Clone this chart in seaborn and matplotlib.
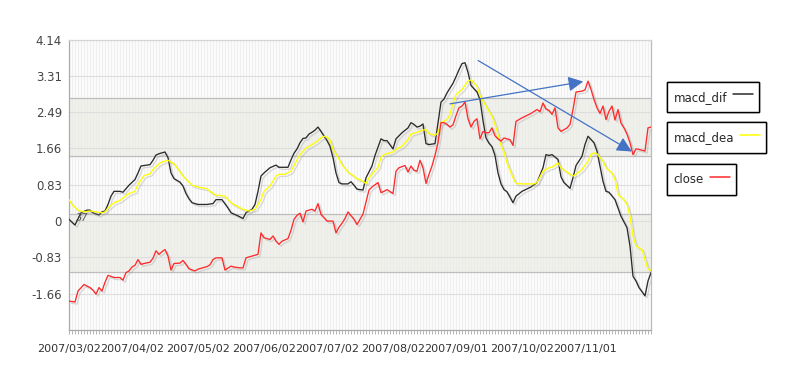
import numpy as np
import pandas as pd
import seaborn as sns
import matplotlib.pyplot as plt
import matplotlib.patheffects as pe
from matplotlib.lines import Line2D

#------------------------------------------------------------------------------#
# MACD chart: macd_dif, macd_dea and close, by trading day (index from 2007/03/02)
#------------------------------------------------------------------------------#

date_labels = ['2007/03/02', '2007/04/02', '2007/05/02', '2007/06/02', '2007/07/02',
               '2007/08/02', '2007/09/01', '2007/10/02', '2007/11/01']
date_days   = [0, 21, 43, 65, 86, 108, 129, 151, 172]
n_days      = 195

y_ticks  = [-1.66, -0.83, 0, 0.83, 1.66, 2.49, 3.31, 4.14]
y_labels = ['-1.66', '-0.83', '0', '0.83', '1.66', '2.49', '3.31', '4.14']

# (day, value)
macd_dif = [(0, 0.04), (2, -0.09), (4, 0.19), (6, 0.25), (7, 0.25), (8, 0.19), (10, 0.14),
            (11, 0.21), (12, 0.23), (13, 0.38), (14, 0.57), (15, 0.68), (17, 0.68), (18, 0.66),
            (19, 0.74), (20, 0.82), (22, 0.95), (23, 1.10), (24, 1.26), (25, 1.27), (27, 1.29),
            (28, 1.39), (29, 1.51), (30, 1.54), (32, 1.58), (33, 1.45), (34, 1.10), (35, 0.97),
            (37, 0.89), (38, 0.80), (39, 0.63), (40, 0.51), (41, 0.42), (43, 0.38), (46, 0.38),
            (48, 0.40), (49, 0.49), (51, 0.49), (53, 0.30), (54, 0.19), (56, 0.13), (58, 0.06),
            (59, 0.19), (61, 0.27), (62, 0.38), (63, 0.68), (64, 1.03), (65, 1.10), (67, 1.22),
            (69, 1.28), (70, 1.23), (73, 1.23), (74, 1.40), (75, 1.55), (76, 1.65), (77, 1.79),
            (78, 1.89), (79, 1.90), (80, 1.99), (81, 2.03), (82, 2.08), (83, 2.15), (84, 2.05),
            (86, 1.84), (87, 1.71), (88, 1.45), (89, 1.10), (90, 0.88), (91, 0.85), (93, 0.85),
            (94, 0.90), (95, 0.82), (96, 0.73), (98, 0.71), (99, 0.99), (101, 1.26), (102, 1.50),
            (104, 1.88), (105, 1.84), (106, 1.84), (108, 1.65), (109, 1.88), (111, 2.02),
            (113, 2.13), (114, 2.25), (115, 2.21), (116, 2.15), (117, 2.17), (118, 2.22),
            (119, 1.77), (120, 1.75), (122, 1.77), (123, 2.25), (124, 2.72), (125, 2.79),
            (126, 2.93), (128, 3.15), (129, 3.30), (130, 3.46), (131, 3.60), (132, 3.62),
            (133, 3.40), (134, 3.10), (136, 2.95), (137, 2.78), (138, 2.30), (139, 1.90),
            (140, 1.78), (141, 1.70), (142, 1.50), (143, 1.10), (144, 0.85), (145, 0.72),
            (146, 0.67), (148, 0.42), (149, 0.57), (151, 0.68), (154, 0.78), (156, 0.88),
            (158, 1.22), (159, 1.52), (160, 1.50), (161, 1.52), (163, 1.41), (164, 1.01),
            (165, 0.88), (167, 0.75), (168, 0.99), (169, 1.27), (171, 1.48), (172, 1.75),
            (173, 1.94), (175, 1.79), (176, 1.60), (177, 1.26), (178, 0.91), (179, 0.68),
            (180, 0.66), (182, 0.49), (183, 0.30), (184, 0.11), (186, -0.15), (187, -0.57),
            (188, -1.26), (189, -1.37), (190, -1.52), (192, -1.71), (193, -1.37), (194, -1.18)]

macd_dea = [(0, 0.49), (1, 0.38), (3, 0.25), (5, 0.21), (7, 0.23), (9, 0.21), (11, 0.19),
            (12, 0.21), (13, 0.30), (15, 0.42), (17, 0.47), (18, 0.53), (20, 0.63), (22, 0.68),
            (23, 0.84), (25, 1.04), (27, 1.08), (28, 1.18), (30, 1.31), (31, 1.35), (33, 1.39),
            (35, 1.31), (36, 1.22), (38, 1.03), (40, 0.89), (41, 0.82), (43, 0.78), (46, 0.74),
            (47, 0.68), (49, 0.59), (50, 0.59), (52, 0.57), (54, 0.42), (56, 0.34), (58, 0.27),
            (60, 0.23), (62, 0.27), (64, 0.49), (65, 0.68), (67, 0.80), (69, 1.03), (70, 1.07),
            (72, 1.07), (74, 1.14), (75, 1.27), (77, 1.52), (79, 1.67), (80, 1.71), (82, 1.79),
            (84, 1.90), (85, 1.94), (86, 1.92), (87, 1.85), (88, 1.64), (90, 1.42), (91, 1.29),
            (93, 1.12), (95, 1.03), (96, 0.97), (97, 0.95), (99, 0.86), (100, 0.99), (101, 1.07),
            (103, 1.23), (104, 1.45), (105, 1.52), (108, 1.58), (109, 1.64), (111, 1.71),
            (113, 1.86), (114, 1.99), (116, 2.03), (118, 2.08), (119, 2.09), (120, 2.00),
            (122, 1.96), (123, 2.02), (124, 2.25), (126, 2.32), (127, 2.44), (128, 2.70),
            (129, 2.89), (131, 3.01), (133, 3.20), (134, 3.23), (135, 3.16), (136, 3.08),
            (137, 2.87), (139, 2.63), (140, 2.51), (141, 2.40), (142, 2.21), (143, 1.98),
            (144, 1.73), (145, 1.58), (146, 1.33), (148, 0.99), (149, 0.86), (151, 0.85),
            (155, 0.85), (156, 0.88), (158, 1.14), (160, 1.22), (161, 1.23), (163, 1.33),
            (164, 1.22), (166, 1.12), (168, 1.03), (169, 1.07), (171, 1.18), (173, 1.37),
            (174, 1.52), (175, 1.56), (176, 1.54), (178, 1.37), (179, 1.22), (181, 1.10),
            (182, 0.95), (183, 0.61), (185, 0.49), (186, 0.38), (187, 0.11), (188, -0.34),
            (189, -0.57), (191, -0.65), (192, -0.88), (193, -1.10), (194, -1.13)]

close = [(0, -1.83), (2, -1.85), (3, -1.60), (5, -1.45), (7, -1.52), (8, -1.58), (9, -1.67),
         (10, -1.52), (11, -1.60), (12, -1.40), (13, -1.24), (15, -1.29), (17, -1.29),
         (18, -1.35), (19, -1.18), (20, -1.14), (21, -1.05), (22, -1.01), (23, -0.88),
         (24, -0.99), (25, -0.97), (27, -0.94), (28, -0.85), (29, -0.68), (30, -0.76),
         (31, -0.70), (32, -0.65), (33, -0.80), (34, -1.12), (35, -0.97), (37, -0.96),
         (38, -0.90), (39, -0.99), (40, -1.09), (42, -1.14), (43, -1.10), (46, -1.04),
         (47, -1.00), (48, -0.88), (49, -0.84), (51, -0.84), (52, -1.12), (54, -1.03),
         (55, -1.05), (57, -1.07), (58, -1.07), (59, -0.84), (61, -0.80), (63, -0.76),
         (64, -0.27), (65, -0.38), (66, -0.40), (67, -0.42), (68, -0.34), (69, -0.46),
         (70, -0.53), (71, -0.46), (73, -0.40), (74, -0.21), (75, 0.04), (76, 0.13), (77, 0.18),
         (78, -0.02), (79, 0.23), (81, 0.27), (82, 0.23), (83, 0.40), (84, 0.15), (85, 0.08),
         (86, 0.00), (88, 0.00), (89, -0.27), (90, -0.14), (91, -0.05), (92, 0.06), (93, 0.21),
         (95, 0.04), (96, -0.08), (98, 0.16), (100, 0.71), (101, 0.78), (103, 0.88), (104, 0.65),
         (105, 0.68), (106, 0.72), (108, 0.63), (109, 1.14), (110, 1.22), (112, 1.27),
         (113, 1.12), (114, 1.26), (115, 1.16), (116, 1.14), (117, 1.39), (118, 1.22),
         (119, 0.86), (120, 1.07), (121, 1.26), (122, 1.50), (123, 1.79), (124, 2.25),
         (125, 2.25), (126, 2.21), (127, 2.15), (128, 2.20), (129, 2.41), (130, 2.59),
         (131, 2.63), (132, 2.72), (133, 2.34), (134, 2.15), (135, 2.28), (136, 2.34),
         (137, 1.88), (138, 2.05), (139, 2.02), (140, 2.02), (141, 2.13), (142, 1.95),
         (143, 1.88), (144, 1.83), (145, 1.90), (146, 1.88), (147, 1.86), (148, 1.73),
         (149, 2.28), (151, 2.36), (154, 2.46), (156, 2.55), (157, 2.50), (158, 2.70),
         (159, 2.56), (160, 2.53), (161, 2.44), (162, 2.59), (163, 2.13), (164, 2.05),
         (166, 2.13), (167, 2.21), (168, 2.55), (169, 2.95), (171, 2.97), (172, 3.00),
         (173, 3.20), (174, 3.01), (175, 2.78), (176, 2.59), (177, 2.46), (178, 2.63),
         (179, 2.32), (180, 2.51), (181, 2.63), (182, 2.31), (183, 2.55), (184, 2.24),
         (185, 2.13), (186, 1.99), (187, 1.79), (188, 1.52), (189, 1.65), (190, 1.64),
         (191, 1.62), (192, 1.60), (193, 2.13), (194, 2.15)]

# divergence arrows: (day, value) start -> end
arrow_up   = [(127, 2.68), (171.4, 3.19)]
arrow_down = [(136.4, 3.67), (187.6, 1.59)]

series_colors = {'macd_dif': '#2b2b2b', 'macd_dea': '#ffff00', 'close': '#ff2a2a'}

#------------------------------------------------------------------------------#

def main():

    sns.set_style('white')
    plt.rcParams['font.family'] = ['DejaVu Sans']

    fig = plt.figure(figsize=(7.86, 3.78), dpi=100)
    ax = fig.add_axes([69/786, 48/378, 582/786, 290/378])

    y_min, y_max = -2.49, 4.14
    ax.set_xlim(0, n_days - 1)
    ax.set_ylim(y_min, y_max)

    # alternating horizontal bands
    edges = np.linspace(y_max, y_min, 6)
    for k in range(5):
        col = '#fbfbfb' if k % 2 == 0 else '#f0f0eb'
        ax.axhspan(edges[k+1], edges[k], color=col, zorder=0, lw=0)
    for e in edges[1:-1]:
        ax.axhline(e, color='#bdbdbd', lw=0.9, zorder=1)

    # daily vertical grid
    ax.vlines(np.arange(n_days), y_min, y_max, color='#eaeaea', lw=0.5, zorder=0.5)
    for t in y_ticks:
        ax.axhline(t, color='#dedede', lw=0.8, zorder=1)

    # series
    shadow = [pe.SimpleLineShadow(offset=(1.5, -1.5), shadow_color='#9a9a9a', alpha=0.35),
              pe.Normal()]
    handles = []
    for name, data in [('macd_dif', macd_dif), ('macd_dea', macd_dea), ('close', close)]:
        DF = pd.DataFrame(data, columns=['day', 'value'])
        sns.lineplot(data=DF, x='day', y='value', ax=ax, color=series_colors[name],
                     lw=0.95, estimator=None, sort=False, zorder=3,
                     path_effects=shadow)
        handles.append(Line2D([], [], color=series_colors[name], lw=1.1))

    # arrows
    for arr in [arrow_up, arrow_down]:
        ax.annotate('', xy=arr[1], xytext=arr[0],
                    arrowprops=dict(arrowstyle='-|>,head_length=0.9,head_width=0.45',
                                    color='#4472c4', lw=0.9, shrinkA=0, shrinkB=0),
                    zorder=4)

    ax.text(4.3, 0.08, '37', fontsize=7, color='#555555', style='italic',
            ha='center', va='center', zorder=4)

    # axes
    ax.set_xticks(date_days)
    ax.set_xticklabels(date_labels, fontsize=8, color='#333333')
    ax.set_xticks(np.arange(n_days), minor=True)
    ax.tick_params(axis='x', which='both', length=3, width=0.5, color='#999999',
                   direction='out', pad=7, bottom=True)
    ax.set_yticks(y_ticks)
    ax.set_yticklabels(y_labels, fontsize=8.5, color='#444444')
    ax.tick_params(axis='y', length=0, pad=5)
    ax.set_xlabel('')
    ax.set_ylabel('')
    for side in ['left', 'bottom', 'right', 'top']:
        ax.spines[side].set_visible(True)
        ax.spines[side].set_linewidth(0.9)
    ax.spines['left'].set_color('#aaaaaa')
    ax.spines['bottom'].set_color('#aaaaaa')
    ax.spines['right'].set_color('#bbbbbb')
    ax.spines['top'].set_color('#d5d5d5')
    if ax.get_legend() is not None:
        ax.get_legend().remove()

    # one boxed legend per series on the right
    tops = [81.7, 122.3, 164.3]
    for h, name, top in zip(handles, ['macd_dif', 'macd_dea', 'close'], tops):
        leg = fig.legend([h], [name], loc='upper left',
                         bbox_to_anchor=(667/786, 1 - top/378), borderaxespad=0,
                         markerfirst=False, fontsize=8.5, handlelength=1.7,
                         handleheight=1.9, handletextpad=0.5, borderpad=0.55,
                         fancybox=False, framealpha=1, edgecolor='black',
                         facecolor='white')
        leg.get_frame().set_linewidth(1.0)
        fig.add_artist(leg)

    plt.savefig('out.png', dpi=100)

if __name__ == '__main__':
    main()
